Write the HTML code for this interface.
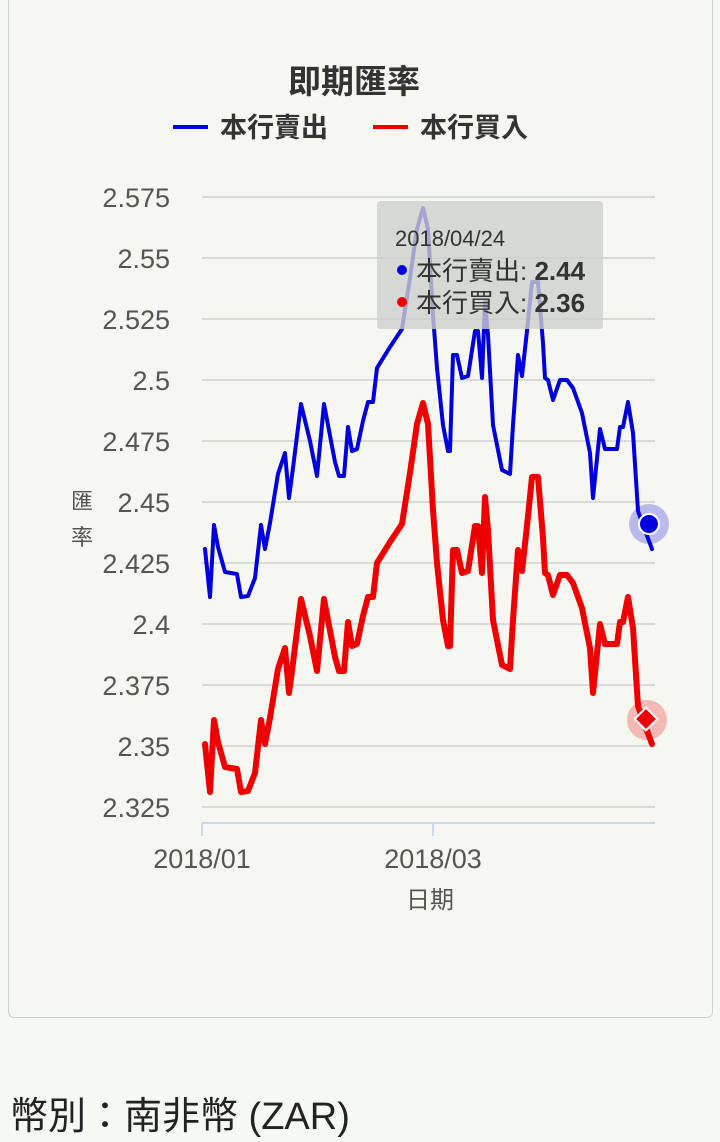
<!DOCTYPE html>
<html><head><meta charset="utf-8"><style>
html,body{margin:0;padding:0;background:#f5f8f3;}
body{width:720px;height:1142px;position:relative;overflow:hidden;font-family:"Liberation Sans","Noto Sans CJK TC",sans-serif;}
.card{position:absolute;left:8px;top:-10px;width:703px;height:1026px;background:#f7f7f1;border:1.5px solid #cfd2cf;border-radius:6px;}
.foot{position:absolute;left:10px;top:1085px;font-size:38px;color:#222;white-space:nowrap;}
</style></head><body>
<div class="card"></div>
<svg width="720" height="1142" style="position:absolute;left:0;top:0" font-family="Liberation Sans, Noto Sans CJK TC, sans-serif">
<text x="354" y="93" text-anchor="middle" font-size="33" font-weight="bold" fill="#333">即期匯率</text>
<line x1="173" y1="127" x2="208" y2="127" stroke="#0000dd" stroke-width="4"/>
<text x="220" y="137" font-size="27" font-weight="bold" fill="#333">本行賣出</text>
<line x1="373" y1="127" x2="408" y2="127" stroke="#ee0000" stroke-width="4"/>
<text x="420" y="137" font-size="27" font-weight="bold" fill="#333">本行買入</text>
<g stroke="#d8dbd8" stroke-width="2">
<line x1="202" x2="655" y1="197" y2="197"/><line x1="202" x2="655" y1="258" y2="258"/>
<line x1="202" x2="655" y1="319" y2="319"/><line x1="202" x2="655" y1="380" y2="380"/>
<line x1="202" x2="655" y1="441" y2="441"/><line x1="202" x2="655" y1="502" y2="502"/>
<line x1="202" x2="655" y1="563" y2="563"/><line x1="202" x2="655" y1="624" y2="624"/>
<line x1="202" x2="655" y1="685" y2="685"/><line x1="202" x2="655" y1="746" y2="746"/>
<line x1="202" x2="655" y1="807" y2="807"/>
</g>
<g font-size="27" fill="#555" text-anchor="end">
<text x="170" y="207">2.575</text><text x="170" y="268">2.55</text><text x="170" y="329">2.525</text>
<text x="170" y="390">2.5</text><text x="170" y="451">2.475</text><text x="170" y="512">2.45</text>
<text x="170" y="573">2.425</text><text x="170" y="634">2.4</text><text x="170" y="695">2.375</text>
<text x="170" y="756">2.35</text><text x="170" y="817">2.325</text>
</g>
<text x="82" y="509" font-size="22" fill="#555" text-anchor="middle">匯</text>
<text x="82" y="545" font-size="22" fill="#555" text-anchor="middle">率</text>
<line x1="202" y1="823" x2="655" y2="823" stroke="#ccd6eb" stroke-width="2"/>
<line x1="202" y1="823" x2="202" y2="836" stroke="#ccd6eb" stroke-width="2"/>
<line x1="433" y1="823" x2="433" y2="836" stroke="#ccd6eb" stroke-width="2"/>
<text x="202" y="868" font-size="27" fill="#555" text-anchor="middle">2018/01</text>
<text x="433" y="868" font-size="27" fill="#555" text-anchor="middle">2018/03</text>
<text x="430" y="908" font-size="24" fill="#555" text-anchor="middle">日期</text>
<defs><polyline id="ln" points="205,549 210,597 214,525 218,547 225,572 237,574 241,597 248,596 255,578 261,525 265,549 270,523 278,474 285,453 289,498 293,468 301,404 310,441 317,476 324,404 335,462 339,476 344,476 348,427 352,451 357,449 363,421 368,402 373,402 377,368 390,347 402,329 410,278 417,229 423,208 428,229 433,315 437,368 443,425 448,451 450,451 453,355 457,355 462,378 468,376 475,331 478,331 482,378 485,302 488,335 493,425 502,470 510,474 513,425 518,355 522,376 527,331 532,282 538,282 543,343 545,378 548,380 553,400 560,380 567,380 573,388 582,413 590,453 593,498 600,429 605,449 617,449 620,427 623,427 628,402 633,433 638,511 643,525 652,549"/></defs>
<use href="#ln" fill="none" stroke="#0000dd" stroke-width="4" stroke-linejoin="round" stroke-linecap="round"/>
<use href="#ln" transform="translate(0,195)" fill="none" stroke="#ee0000" stroke-width="6" stroke-linejoin="round" stroke-linecap="round"/>
<circle cx="649" cy="524" r="20" fill="#0000dd" opacity="0.25"/>
<circle cx="649" cy="524" r="10" fill="#0000dd" stroke="#fff" stroke-width="2"/>
<circle cx="647" cy="720" r="20" fill="#ee0000" opacity="0.25"/>
<rect x="638" y="711" width="16" height="16" transform="rotate(45 646 719)" fill="#ee0000" stroke="#fff" stroke-width="2"/>
<rect x="377" y="201" width="226" height="128" rx="3" fill="#cdd0cc" opacity="0.8"/>
<text x="395" y="246" font-size="22" fill="#333">2018/04/24</text>
<circle cx="402" cy="270" r="5" fill="#0000dd"/>
<text x="416" y="280" font-size="26" fill="#333">本行賣出: <tspan font-weight="bold">2.44</tspan></text>
<circle cx="402" cy="302" r="5" fill="#ee0000"/>
<text x="416" y="312" font-size="26" fill="#333">本行買入: <tspan font-weight="bold">2.36</tspan></text>
</svg>
<div class="foot">幣別：南非幣 (ZAR)</div>
</body></html>
